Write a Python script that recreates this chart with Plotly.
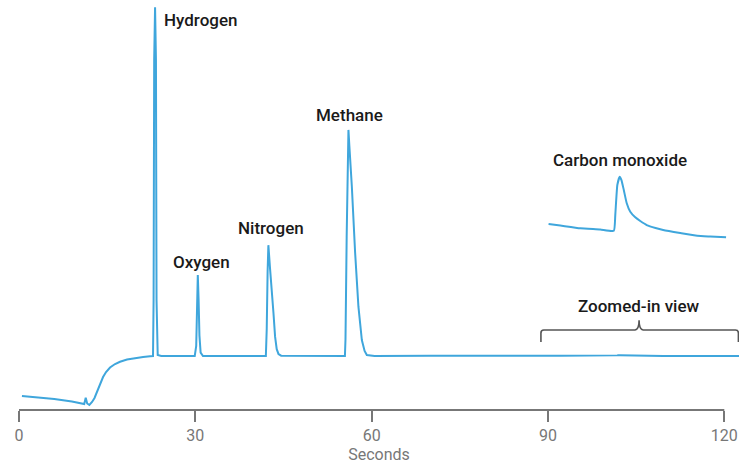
import plotly.graph_objects as go

# Chromatogram readings: time (s) and detector signal (arbitrary units)
t_baseline_start = [0.5, 3.0, 6.0, 9.0, 11.1, 11.35, 11.6, 11.97, 12.43, 12.85, 13.28, 13.79, 14.30,
                    14.81, 15.49, 16.34, 17.19, 18.38, 19.74, 21.11, 22.3]
s_baseline_start = [-11.76, -12.15, -12.65, -13.38, -14.12, -12.26, -13.97, -14.41, -13.53, -12.35,
                    -10.59, -8.24, -6.18, -4.71, -3.38, -2.35, -1.68, -1.03, -0.59, -0.29, -0.09]

t_hydrogen = [22.8, 22.9, 23.0, 23.15, 23.3, 23.4, 23.6, 24.2]
s_hydrogen = [0.0, 16.5, 87.1, 102.6, 87.1, 16.5, 0.3, 0.0]

t_oxygen = [29.9, 30.15, 30.3, 30.42, 30.55, 30.7, 30.9, 31.3]
s_oxygen = [0.0, 3.0, 18.0, 23.8, 17.0, 6.0, 1.0, 0.0]

t_nitrogen = [42.0, 42.15, 42.3, 42.43, 42.7, 43.0, 43.3, 43.57, 43.85, 44.15, 44.6]
s_nitrogen = [0.0, 8.0, 25.0, 32.6, 26.0, 20.4, 12.5, 5.7, 2.0, 0.6, 0.1]

t_methane = [55.45, 55.55, 55.75, 55.95, 56.05, 56.2, 56.63, 57.19, 57.75, 58.33, 58.8, 59.18, 60.5, 70.0, 80.0, 89.5]
s_methane = [0.0, 5.0, 35.0, 62.0, 66.5, 62.0, 49.8, 30.3, 14.5, 4.7, 1.5, 0.3, 0.0, 0.08, -0.04, 0.05]

# Carbon monoxide region (90-120 s), tiny on the full scale
t_co = [90.1, 92.1, 95.5, 98.9, 101.2, 101.45, 101.8, 102.2, 102.5, 102.9, 103.4, 104.0,
        104.8, 105.7, 106.8, 108.3, 109.6, 112.5, 115.4, 117.6, 120.3]
s_co = [0.053, 0.047, 0.036, 0.031, 0.026, 0.089, 0.209, 0.242, 0.229, 0.189, 0.136, 0.102,
        0.081, 0.065, 0.049, 0.037, 0.029, 0.017, 0.006, 0.003, 0.0]

t_tail = [122.5]
s_tail = [0.0]

tick_vals = [0, 30, 60, 90, 120]
tick_text = ["0", "30", "60", "90", "120"]

peak_names = ["Hydrogen", "Oxygen", "Nitrogen", "Methane"]
peak_label_t = [24.4, 31.0, 42.9, 56.3]
peak_label_s = [98.8, 27.6, 37.6, 70.9]

LINE = "#3fa6dc"
INK = "#1a1a1a"
AXIS = "#777777"

t_all = t_baseline_start + t_hydrogen + t_oxygen + t_nitrogen + t_methane + t_co + t_tail
s_all = s_baseline_start + s_hydrogen + s_oxygen + s_nitrogen + s_methane + s_co + s_tail

fig = go.Figure()
fig.add_trace(go.Scatter(x=t_all, y=s_all, mode="lines",
                         line=dict(color=LINE, width=2), hoverinfo="skip",
                         xaxis="x", yaxis="y"))
# magnified inset of the carbon monoxide peak
fig.add_trace(go.Scatter(x=t_co, y=s_co, mode="lines",
                         line=dict(color=LINE, width=2, shape="spline", smoothing=0.4),
                         hoverinfo="skip", xaxis="x", yaxis="y2"))

label_font = dict(family="Roboto", size=17, color=INK, weight=500)
for name, tx, sy in zip(peak_names, peak_label_t, peak_label_s):
    fig.add_annotation(x=tx, y=sy, xref="x", yref="y", text=name, showarrow=False,
                       xanchor="left" if name == "Hydrogen" else "center",
                       yanchor="middle", font=label_font)

fig.add_annotation(x=102.3, y=0.61, xref="x", yref="paper", text="Carbon monoxide",
                   showarrow=False, xanchor="center", yanchor="middle", font=label_font)
fig.add_annotation(x=105.5, y=0.254, xref="x", yref="paper", text="Zoomed-in view",
                   showarrow=False, xanchor="center", yanchor="middle", font=label_font)

# bracket marking the magnified span
fig.add_shape(type="path", xref="x", yref="paper",
              path="M 88.8,0.166 L 88.8,0.188 Q 88.8,0.195 89.3,0.195 "
                   "L 104.8,0.195 Q 105.5,0.197 105.5,0.219 Q 105.5,0.197 106.2,0.195 "
                   "L 121.9,0.195 Q 122.4,0.195 122.4,0.188 L 122.4,0.166",
              line=dict(color="#555555", width=1.6))

# x axis baseline spanning 0-120 s
fig.add_shape(type="line", xref="x", yref="paper", x0=0, x1=120, y0=0, y1=0,
              line=dict(color=AXIS, width=2))

fig.update_layout(
    width=752, height=466,
    margin=dict(l=19, r=13, t=0, b=56),
    paper_bgcolor="white", plot_bgcolor="rgba(0,0,0,0)",
    showlegend=False,
    font=dict(family="Roboto", color=AXIS),
    xaxis=dict(range=[0, 122.5], tickvals=tick_vals, ticktext=tick_text,
               ticks="outside", ticklen=11, tickwidth=2, tickcolor=AXIS,
               showline=False, showgrid=False, zeroline=False,
               tickfont=dict(family="Roboto", size=16, color=AXIS),
               title=dict(text="Seconds", font=dict(family="Roboto", size=16, color=AXIS),
                          standoff=3),
               anchor="y", fixedrange=True),
    yaxis=dict(range=[-15.88, 104.71], visible=False, domain=[0, 1], fixedrange=True),
    yaxis2=dict(range=[-0.02, 0.26], visible=False, domain=[0.409, 0.5798],
                anchor="x", fixedrange=True),
)

fig.write_html("out.html")
